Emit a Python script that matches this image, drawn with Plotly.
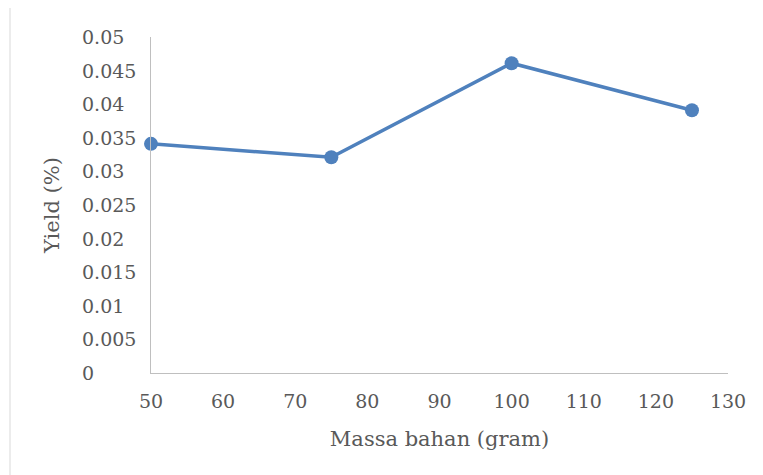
import plotly.graph_objects as go

massa = [50, 75, 100, 125]
yield_pct = [0.0341, 0.0321, 0.0461, 0.0391]
y_ticks = [0, 0.005, 0.01, 0.015, 0.02, 0.025, 0.03, 0.035, 0.04, 0.045, 0.05]
y_tick_text = ["0", "0.005", "0.01", "0.015", "0.02", "0.025", "0.03", "0.035", "0.04", "0.045", "0.05"]
x_ticks = [50, 60, 70, 80, 90, 100, 110, 120, 130]

FONT = "'DejaVu Serif', serif"
TFONT = "'DejaVu Serif', serif"
TXT = "#595959"
OFF = 8  # page body margin
W, H = 763 - OFF, 475 - OFF
ML, MR, MT, MB = 151 - OFF, 35, 37 - OFF, 102

fig = go.Figure()
fig.add_trace(go.Scatter(
    x=massa, y=yield_pct, mode="lines+markers",
    line=dict(color="#4F81BD", width=3.5),
    marker=dict(color="#4F81BD", size=14),
    cliponaxis=False, showlegend=False,
))

pw = W - ML - MR
ph = H - MT - MB
annotations = []
for v, t in zip(y_ticks, y_tick_text):
    annotations.append(dict(
        x=(80 - OFF - ML) / pw, xref="paper", y=v, yref="y", text=t,
        showarrow=False, xanchor="left", yanchor="middle",
        font=dict(family=FONT, size=19, color=TXT),
    ))

fig.update_layout(
    width=W, height=H,
    margin=dict(l=ML, r=MR, t=MT, b=MB),
    paper_bgcolor="white", plot_bgcolor="white",
    annotations=annotations,
    shapes=[dict(type="rect", xref="paper", yref="paper",
                 x0=(10 - OFF - ML) / pw, x1=(W + 5 - ML) / pw,
                 y0=-(H + 5 - MT - ph) / ph, y1=(H - MT - (10 - OFF)) / ph,
                 line=dict(color="#d9d9d9", width=1), fillcolor="rgba(0,0,0,0)", layer="below")],
    xaxis=dict(
        range=[50, 130], tickvals=x_ticks, showgrid=False, zeroline=False,
        showline=True, linecolor="#bfbfbf", linewidth=1.3, ticks="",
        tickfont=dict(family=FONT, size=19, color=TXT), ticklabelstandoff=11,
        title=dict(text="Massa bahan (gram)", font=dict(family=TFONT, size=21, color=TXT), standoff=20),
    ),
    yaxis=dict(
        range=[0, 0.05], tickvals=y_ticks, showticklabels=False, showgrid=False, zeroline=False,
        showline=True, linecolor="#bfbfbf", linewidth=1.3, ticks="",
        title=dict(text="Yield (%)", font=dict(family=TFONT, size=21, color=TXT), standoff=84),
    ),
)

fig.write_html("out.html")
